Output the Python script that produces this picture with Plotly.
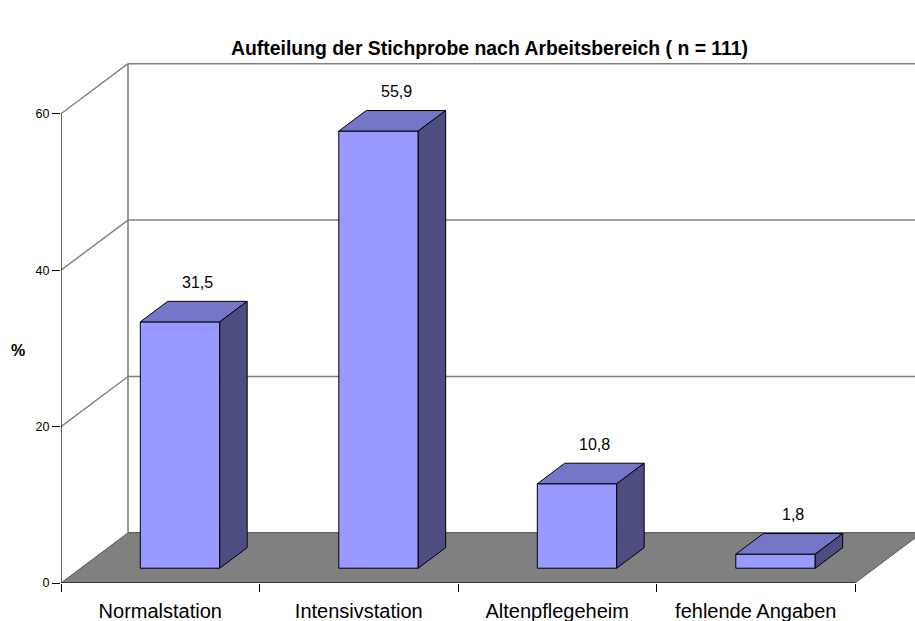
import plotly.graph_objects as go

# ---- data ----
categories = ["Normalstation", "Intensivstation", "Altenpflegeheim", "fehlende Angaben"]
values = [31.5, 55.9, 10.8, 1.8]
value_labels = ["31,5", "55,9", "10,8", "1,8"]
y_ticks = [0, 20, 40, 60]
title_text = "Aufteilung der Stichprobe nach Arbeitsbereich ( n = 111)"
y_title = "%"

# ---- 3D oblique projection settings ----
DX = 0.3375      # depth offset in category units
DY = 6.41        # depth offset in % units
BAR_X0, BAR_X1 = 0.30, 0.70   # bar span within a category slot
D0, D1 = 0.295, 0.705         # bar depth span (fraction of full depth)

FRONT = "#9999FF"
TOP = "#7676C8"
SIDE = "#4D4D80"
FLOOR = "#808080"
WALL_LINE = "#808080"

FONT = "Arial, Liberation Sans, sans-serif"


def P(x, y, d):
    return x + d * DX, y + d * DY


fig = go.Figure()


def poly(pts, fill=None, color="black", width=1.0, closed=True):
    xs = [p[0] for p in pts]
    ys = [p[1] for p in pts]
    if closed:
        xs.append(xs[0])
        ys.append(ys[0])
    fig.add_trace(go.Scatter(
        x=xs, y=ys, mode="lines",
        fill="toself" if fill else None,
        fillcolor=fill,
        line=dict(color=color, width=width),
        hoverinfo="skip", showlegend=False,
    ))


n = len(categories)
ytop = max(y_ticks)

# back wall gridlines
for g in y_ticks:
    poly([P(0, g, 1), P(n + 1, g, 1)], color=WALL_LINE, width=1.6, closed=False)
# back wall left edge
poly([P(0, 0, 1), P(0, ytop, 1)], color=WALL_LINE, width=1.6, closed=False)
# left wall gridlines
for g in y_ticks[1:]:
    poly([P(0, g, 0), P(0, g, 1)], color=WALL_LINE, width=1.4, closed=False)

# floor
poly([P(0, 0, 0), P(n, 0, 0), P(n, 0, 1), P(0, 0, 1)], fill=FLOOR, color="#5a5a5a", width=1.0)

# front axis lines
poly([P(0, 0, 0), P(n, 0, 0)], color="black", width=1.2, closed=False)
poly([P(0, 0, 0), P(0, ytop, 0)], color="black", width=1.2, closed=False)

# bars
for i, v in enumerate(values):
    x0, x1 = i + BAR_X0, i + BAR_X1
    poly([P(x0, 0, D0), P(x1, 0, D0), P(x1, v, D0), P(x0, v, D0)], fill=FRONT)
    poly([P(x0, v, D0), P(x1, v, D0), P(x1, v, D1), P(x0, v, D1)], fill=TOP)
    poly([P(x1, 0, D0), P(x1, 0, D1), P(x1, v, D1), P(x1, v, D0)], fill=SIDE)
    lx, ly = P(i + (BAR_X0 + BAR_X1) / 2, v, (D0 + D1) / 2)
    fig.add_annotation(x=lx + 0.02, y=v + D1 * DY, text=value_labels[i], showarrow=False,
                       yshift=19, yanchor="middle",
                       font=dict(family=FONT, size=16, color="black"))

# y-axis title
fig.add_annotation(xref="paper", yref="paper", x=-0.061, y=0.447, text="<b>%s</b>" % y_title,
                   showarrow=False, font=dict(family=FONT, size=16, color="black"))

W, H = 915, 621
L, R, T, B = 61, 0, 63, 38
px_per_cat = 198.5
px_per_unit = 7.82

fig.update_layout(
    width=W, height=H,
    margin=dict(l=L, r=R, t=T, b=B),
    paper_bgcolor="white", plot_bgcolor="white",
    title=dict(text="<b>%s</b>" % title_text, x=0.535, xanchor="center",
               y=1 - 48 / H, yanchor="middle",
               font=dict(family=FONT, size=19.4, color="black")),
    xaxis=dict(range=[0, (W - L - R) / px_per_cat], showgrid=False, zeroline=False,
               showline=False,
               tickvals=[i + 0.5 for i in range(n)], ticktext=categories, ticks="",
               ticklabelstandoff=14,
               tickfont=dict(family=FONT, size=20, color="black"),
               minor=dict(tickvals=list(range(n + 1)), ticks="outside", ticklen=8,
                          tickcolor="black", tickwidth=1, showgrid=False),
               fixedrange=True),
    yaxis=dict(range=[0, (H - T - B) / px_per_unit], showgrid=False, zeroline=False,
               showline=False, tickvals=y_ticks, ticks="outside", ticklen=8,
               tickcolor="black", tickwidth=1,
               tickfont=dict(family=FONT, size=12.5, color="black"),
               fixedrange=True),
)

fig.write_html(
    "out.html",
    config={"displayModeBar": False},
    post_script="document.body.style.margin='0px';document.body.style.overflow='hidden';",
)
